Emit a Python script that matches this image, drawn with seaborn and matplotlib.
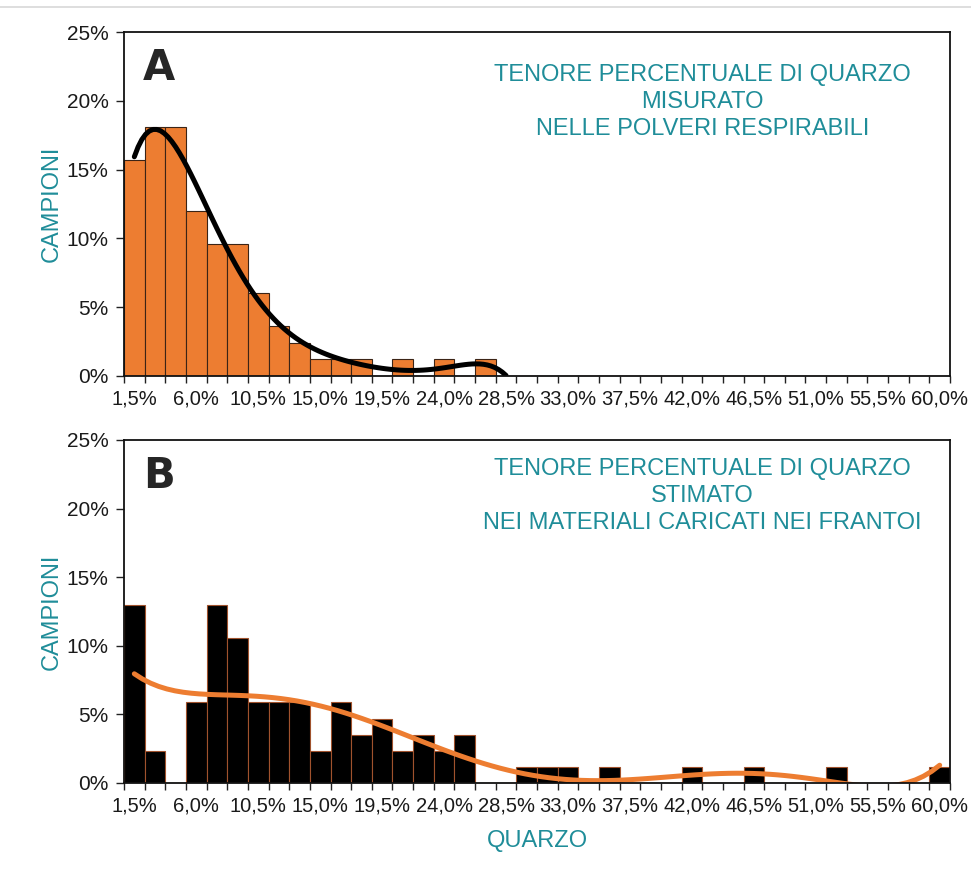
import numpy as np
import pandas as pd
import seaborn as sns
from matplotlib import pyplot as plt
from matplotlib.ticker import FixedLocator

# quartz content classes, 1,5% .. 60,0%
classes = [f"{1.5 * (i + 1):.1f}%".replace(".", ",") for i in range(40)]
tick_idx = list(range(0, 40, 3))
ytick_vals = [0, 5, 10, 15, 20, 25]
ytick_labels = ["0%", "5%", "10%", "15%", "20%", "25%"]

# A: measured in respirable dust (% of samples)
campioni_a = [15.7, 18.1, 18.1, 12.0, 9.6, 9.6, 6.0, 3.6, 2.4, 1.2,
              1.2, 1.2, 0, 1.2, 0, 1.2, 0, 1.2, 0, 0,
              0, 0, 0, 0, 0, 0, 0, 0, 0, 0,
              0, 0, 0, 0, 0, 0, 0, 0, 0, 0]
trend_len_a = 19  # trend series in A only covers 1,5% .. 28,5%

# B: estimated in crushed material (% of samples)
campioni_b = [13.0, 2.35, 0, 5.9, 13.0, 10.6, 5.9, 5.9, 5.9, 2.35,
              5.9, 3.5, 4.7, 2.35, 3.5, 2.35, 3.5, 0, 0, 1.2,
              1.2, 1.2, 0, 1.2, 0, 0, 0, 1.2, 0, 0,
              1.2, 0, 0, 0, 1.2, 0, 0, 0, 0, 1.2]

teal = "#1f8d99"
orange = "#ed7d31"

sns.set_style("white")
plt.rcParams['font.family'] = ['Liberation Sans', 'DejaVu Sans']

fig = plt.figure(figsize=(9.71, 8.77), dpi=100)
ax_a = fig.add_axes([0.1277, 0.5713, 0.8507, 0.3922])
ax_b = fig.add_axes([0.1277, 0.1072, 0.8507, 0.3911])
fig.add_artist(plt.Line2D([0, 1], [0.992, 0.992], color="#d8d8d8", lw=1.2))


def panel(ax, values, bar_col, edge_col, line_col, n_trend, letter, title, title_y):
    df = pd.DataFrame({"classe": classes, "campioni": values})
    sns.barplot(data=df, x="classe", y="campioni", order=classes, color=bar_col,
                width=1.0, edgecolor=edge_col, linewidth=0.8, saturation=1, ax=ax)
    # polynomial trend line (order 6) like the spreadsheet trendline
    tr = pd.DataFrame({"x": np.arange(n_trend), "y": values[:n_trend]})
    sns.regplot(data=tr, x="x", y="y", order=6, ci=None, scatter=False, ax=ax,
                line_kws={"color": line_col, "lw": 3.6, "solid_capstyle": "round"})
    ax.set_xlim(-0.5, 39.5)
    ax.set_ylim(0, 25)
    ax.set_xticks(tick_idx)
    ax.set_xticklabels([classes[i] for i in tick_idx])
    ax.xaxis.set_minor_locator(FixedLocator(np.arange(-0.5, 40, 1)))
    ax.tick_params(axis="x", which="major", length=0, labelsize=14.5, colors="#1a1a1a", pad=10)
    ax.tick_params(axis="x", which="minor", length=5, width=1, color="#222222", bottom=True)
    ax.set_yticks(ytick_vals)
    ax.set_yticklabels(ytick_labels)
    ax.tick_params(axis="y", length=6, width=1, color="#222222", labelsize=15,
                   colors="#1a1a1a", left=True, pad=5)
    for s in ax.spines.values():
        s.set_visible(True)
        s.set_color("#111111")
        s.set_linewidth(1.3)
    ax.set_xlabel("")
    ax.set_ylabel("CAMPIONI", color=teal, fontsize=17, labelpad=3)
    ax.text(0.042, 0.895, letter, transform=ax.transAxes, fontsize=30,
            fontweight="bold", family="DejaVu Sans", ha="center", va="center")
    ax.text(0.7, title_y, title, transform=ax.transAxes, fontsize=17, color=teal,
            ha="center", va="center", linespacing=1.3)


panel(ax_a, campioni_a, orange, "#3b2416", "black", trend_len_a, "A",
      "TENORE PERCENTUALE DI QUARZO\nMISURATO\nNELLE POLVERI RESPIRABILI", 0.797)
panel(ax_b, campioni_b, "black", "#a0522d", orange, 40, "B",
      "TENORE PERCENTUALE DI QUARZO\nSTIMATO\nNEI MATERIALI CARICATI NEI FRANTOI", 0.837)
ax_b.set_xlabel("QUARZO", color=teal, fontsize=17, labelpad=10)

plt.savefig("out.png", dpi=100)
